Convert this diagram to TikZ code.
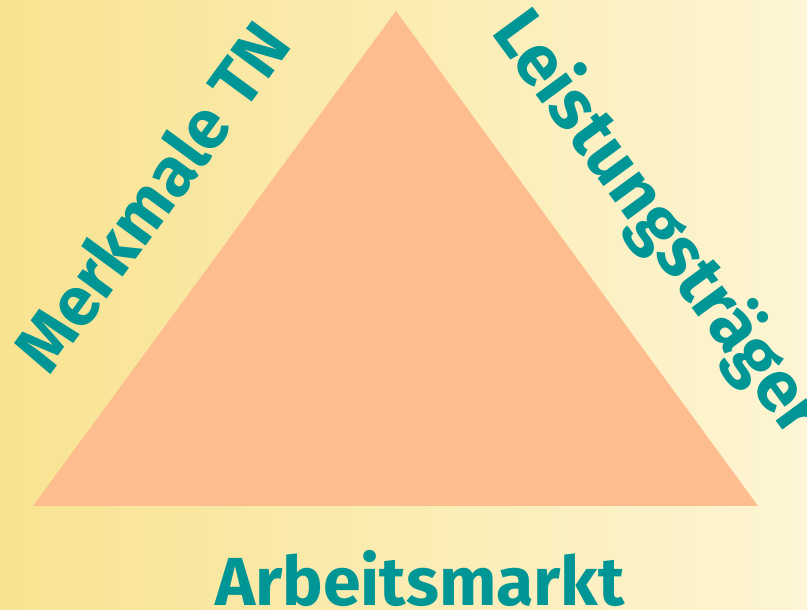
\documentclass[tikz,border=0pt]{standalone}
\usepackage{fontspec}
\setmainfont{Fira Sans}
\usetikzlibrary{positioning}
\definecolor{bgleft}{RGB}{248,227,144}
\definecolor{bgright}{RGB}{253,245,212}
\definecolor{salmon}{RGB}{253,189,142}
\definecolor{teal}{RGB}{0,150,150}
\begin{document}
\begin{tikzpicture}[
    x=1pt, y=1pt,
    label/.style={text=teal, font=\fontsize{68}{68}\selectfont\bfseries, inner sep=0pt}
  ]

  % hintergrund
  \useasboundingbox (0,0) rectangle (807,610);
  \shade[left color=bgleft, right color=bgright] (0,0) rectangle (807,610);

  % dreieck
  \coordinate (top) at (396,599);
  \coordinate (left) at (33,104);
  \coordinate (right) at (758,104);
  \fill[salmon] (left) -- (top) -- (right) -- cycle;

  % beschriftungen
  \begin{scope}
    \clip (0,0) rectangle (807,610);
    \node[label, rotate=53.7, font=\fontsize{69}{69}\selectfont\bfseries] (tn) at (151,414) {Merkmale TN};
    \node[label, rotate=-53.7, font=\fontsize{71}{71}\selectfont\bfseries] (lt) at (657,386) {Leistungsträger};
    \node[label, anchor=base] (am) at (420,4) {Arbeitsmarkt};
  \end{scope}

\end{tikzpicture}
\end{document}
